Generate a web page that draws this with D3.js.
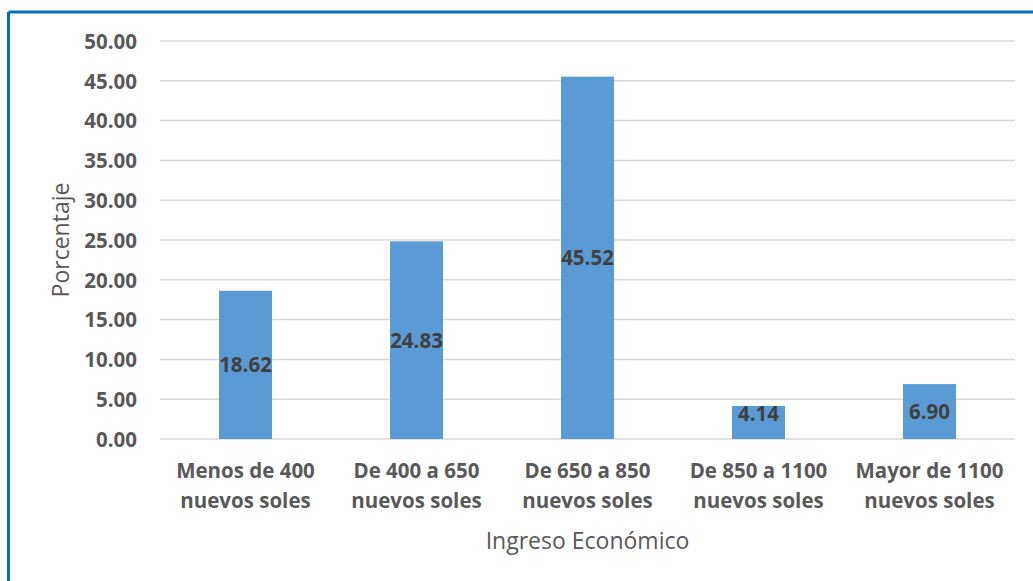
<!DOCTYPE html>
<html>
<head>
<meta charset="utf-8">
<script src="https://cdn.jsdelivr.net/npm/d3@7"></script>
<style>
  html, body { margin: 0; padding: 0; background: #fff; }
  svg { display: block; }
</style>
</head>
<body>
<svg id="chart" width="1033" height="581"></svg>
<script>
// Income brackets and share of respondents (%)
const categories = [
  ["Menos de 400", "nuevos soles"],
  ["De 400 a 650", "nuevos soles"],
  ["De 650 a 850", "nuevos soles"],
  ["De 850 a 1100", "nuevos soles"],
  ["Mayor de 1100", "nuevos soles"]
];
const values = [18.62, 24.83, 45.52, 4.14, 6.90];
const yTicks = [0, 5, 10, 15, 20, 25, 30, 35, 40, 45, 50];
const xTitle = "Ingreso Económico";
const yTitle = "Porcentaje";

const svg = d3.select("#chart");
const W = 1033, H = 581;
const font = "'Open Sans', 'Noto Sans', sans-serif";

// frame: blue rule along the top and left edges
svg.append("line").attr("x1", 8.5).attr("x2", W).attr("y1", 12).attr("y2", 12)
  .attr("stroke", "#0070C0").attr("stroke-width", 3);
svg.append("line").attr("x1", 8.5).attr("x2", 8.5).attr("y1", 12).attr("y2", H)
  .attr("stroke", "#0070C0").attr("stroke-width", 3);

const plot = { left: 160, right: 1015, top: 41, bottom: 439 };

const x = d3.scaleBand()
  .domain(d3.range(categories.length))
  .range([plot.left, plot.right])
  .paddingInner(0.69).paddingOuter(0.345);

const y = d3.scaleLinear().domain([0, 50]).range([plot.bottom, plot.top]);

// horizontal gridlines
svg.append("g").selectAll("line").data(yTicks).join("line")
  .attr("x1", plot.left).attr("x2", plot.right)
  .attr("y1", d => y(d)).attr("y2", d => y(d))
  .attr("stroke", "#D9D9D9").attr("stroke-width", 1.5);

// y axis tick labels
const yAxis = d3.axisLeft(y).tickValues(yTicks).tickFormat(d3.format(".2f")).tickSize(0).tickPadding(0);
const gy = svg.append("g").attr("transform", `translate(${plot.left - 23},0)`).call(yAxis);
gy.select(".domain").remove();
gy.selectAll("text")
  .attr("font-family", font).attr("font-size", 20.5).attr("font-weight", "bold")
  .attr("fill", "#595959").attr("dy", "0.36em");

// bars
svg.append("g").selectAll("rect").data(values).join("rect")
  .attr("x", (d, i) => x(i))
  .attr("width", x.bandwidth())
  .attr("y", d => y(d))
  .attr("height", d => y(0) - y(d))
  .attr("fill", "#5B9BD5");

// value labels, centred in each bar, kept clear of the baseline
svg.append("g").selectAll("text").data(values).join("text")
  .attr("x", (d, i) => x(i) + x.bandwidth() / 2)
  .attr("y", d => Math.min((y(d) + y(0)) / 2, y(0) - 25))
  .attr("dy", "0.36em")
  .attr("text-anchor", "middle")
  .attr("font-family", font).attr("font-size", 20.5).attr("font-weight", "bold")
  .attr("fill", "#404040")
  .text(d => d3.format(".2f")(d));

// category labels (two lines each)
const xl = svg.append("g").selectAll("text").data(categories).join("text")
  .attr("text-anchor", "middle")
  .attr("font-family", font).attr("font-size", 20.5).attr("font-weight", "bold")
  .attr("fill", "#595959");
xl.selectAll("tspan").data((d, i) => d.map(t => ({ t, i }))).join("tspan")
  .attr("x", d => x(d.i) + x.bandwidth() / 2)
  .attr("y", (d, j) => 471 + j * 30)
  .attr("dy", "0.36em")
  .text(d => d.t);

// axis titles
svg.append("text")
  .attr("x", (plot.left + plot.right) / 2).attr("y", 541).attr("dy", "0.36em")
  .attr("text-anchor", "middle")
  .attr("font-family", font).attr("font-size", 23)
  .attr("fill", "#595959").text(xTitle);

svg.append("text")
  .attr("transform", `translate(61,${(plot.top + plot.bottom) / 2}) rotate(-90)`)
  .attr("dy", "0.36em")
  .attr("text-anchor", "middle")
  .attr("font-family", font).attr("font-size", 23)
  .attr("fill", "#595959").text(yTitle);
</script>
</body>
</html>
